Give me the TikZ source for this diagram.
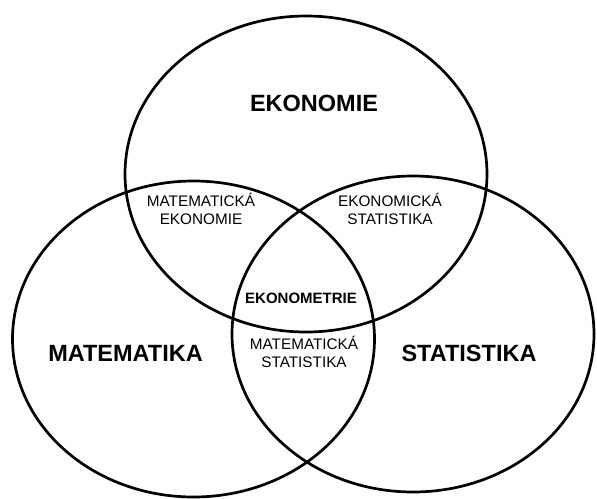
\documentclass[tikz,border=0pt]{standalone}
\usepackage{fontspec}
\setmainfont{Liberation Sans}
\usetikzlibrary{shapes.geometric}
\tikzset{
  setshape/.style={draw=black, line width=2.7pt, ellipse, inner sep=0pt,
    minimum width=362pt, minimum height=316pt},
  biglabel/.style={anchor=base, inner sep=0pt, font=\fontsize{23.5}{28}\selectfont\bfseries},
  smalllabel/.style={anchor=base, inner sep=0pt, align=center, font=\fontsize{15.3}{18}\selectfont},
  midlabel/.style={anchor=base, inner sep=0pt, font=\fontsize{15}{18}\selectfont\bfseries}
}
\begin{document}
\begin{tikzpicture}[x=1pt,y=-1pt]
\useasboundingbox (0,0) rectangle (597,498);
\clip (0,0) rectangle (597,498);
\fill[white] (0,0) rectangle (597,498);
\node[setshape] (eko) at (306,174) {};
\node[setshape] (mat) at (193.5,339) {};
\node[setshape] (sta) at (413,334) {};
\node[biglabel] (lEko) at (314,111.5) {EKONOMIE};
\node[biglabel] (lMat) at (125.5,361.5) {MATEMATIKA};
\node[biglabel] (lSta) at (469,361.5) {STATISTIKA};
\node[smalllabel] (lME) at (201,224) {MATEMATICKÁ\\EKONOMIE};
\node[smalllabel] (lES) at (390,224) {EKONOMICKÁ\\STATISTIKA};
\node[midlabel] (lEM) at (301,303) {EKONOMETRIE};
\node[smalllabel] (lMS) at (304,367) {MATEMATICKÁ\\STATISTIKA};
\end{tikzpicture}
\end{document}
